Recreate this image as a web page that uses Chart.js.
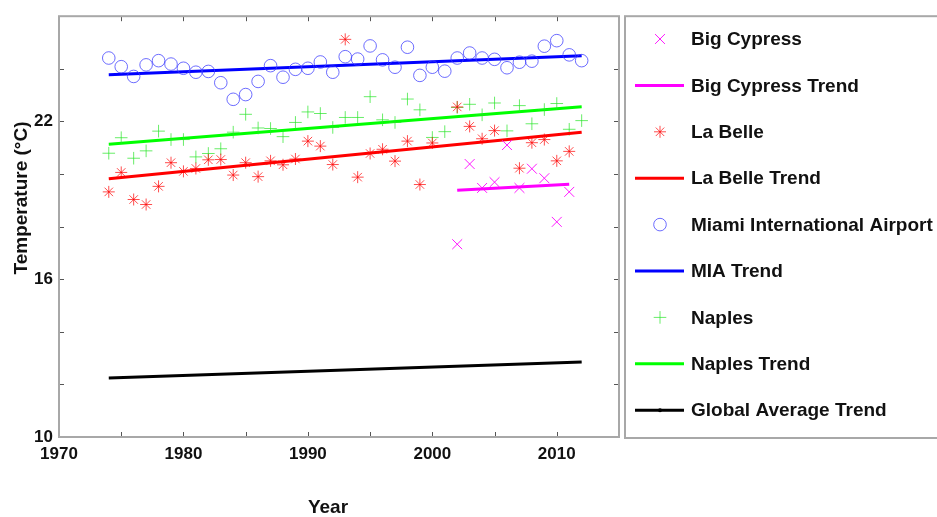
<!DOCTYPE html>
<html>
<head>
<meta charset="utf-8">
<title>South Florida Temperature Trends</title>
<script src="https://cdn.jsdelivr.net/npm/chart.js@4/dist/chart.umd.min.js"></script>
<style>
  html, body { margin: 0; padding: 0; background: #ffffff; }
  canvas { display: block; }
</style>
</head>
<body>
<canvas id="chart" width="937" height="517"></canvas>
<script>
// Annual mean temperature (°C) by station, 1974-2012
const years = [1974, 1975, 1976, 1977, 1978, 1979, 1980, 1981, 1982, 1983,
               1984, 1985, 1986, 1987, 1988, 1989, 1990, 1991, 1992, 1993,
               1994, 1995, 1996, 1997, 1998, 1999, 2000, 2001, 2002, 2003,
               2004, 2005, 2006, 2007, 2008, 2009, 2010, 2011, 2012];

const miamiTemps = [24.41, 24.08, 23.71, 24.15, 24.31, 24.18, 24.02, 23.87, 23.90, 23.47,
                    22.84, 23.02, 23.52, 24.12, 23.68, 23.98, 24.02, 24.26, 23.87, 24.46,
                    24.37, 24.87, 24.34, 24.06, 24.82, 23.75, 24.06, 23.91, 24.41, 24.60,
                    24.41, 24.36, 24.04, 24.25, 24.29, 24.86, 25.07, 24.53, 24.31];

const naplesTemps = [20.79, 21.38, 20.60, 20.88, 21.63, 21.31, 21.31, 20.65, 20.78, 20.96,
                     21.59, 22.27, 21.75, 21.73, 21.42, 21.96, 22.36, 22.30, 21.77, 22.15,
                     22.15, 22.94, 22.06, 21.96, 22.85, 22.44, 21.39, 21.61, 22.53, 22.65,
                     22.25, 22.70, 21.64, 22.60, 21.91, 22.45, 22.68, 21.70, 22.03];

const laBelleTemps = [19.32, 20.06, 19.03, 18.84, 19.53, 20.43, 20.10, 20.21, 20.54, 20.55,
                      19.96, 20.43, 19.90, 20.50, 20.35, 20.57, 21.25, 21.06, 20.36, 25.12,
                      19.88, 20.78, 20.94, 20.49, 21.25, 19.60, 21.18, null, 22.55, 21.81,
                      21.34, 21.65, null, 20.22, 21.19, 21.31, 20.50, 20.86, null];

const bigCypressYears = [2002, 2003, 2004, 2005, 2006, 2007, 2008, 2009, 2010, 2011];
const bigCypressTemps = [17.33, 20.38, 19.47, 19.69, 21.10, 19.47, 20.20, 19.84, 18.18, 19.32];

// Linear trend end points: [first year, last year] and [start value, end value]
const stationTrendYears = [1974, 2012];
const miamiTrend = [23.77, 24.50];
const naplesTrend = [21.13, 22.56];
const laBelleTrend = [19.82, 21.59];
const bigCypressTrendYears = [2002, 2011];
const bigCypressTrend = [19.38, 19.61];
const globalTrend = [12.24, 12.85];

// Axis tick values
const xTicks = [1970, 1975, 1980, 1985, 1990, 1995, 2000, 2005, 2010, 2015];
const xTickLabels = ['1970', '', '1980', '', '1990', '', '2000', '', '2010', ''];
const yTicks = [10, 12, 14, 16, 18, 20, 22, 24, 26];
const yTickLabels = ['10', '', '', '16', '', '', '22', '', ''];

const seriesNames = ['Big Cypress', 'Big Cypress Trend', 'La Belle', 'La Belle Trend',
                     'Miami International Airport', 'MIA Trend', 'Naples', 'Naples Trend',
                     'Global Average Trend'];

const pairs = (xs, ys) => xs.map((x, i) => ({ x: x, y: ys[i] })).filter(p => p.y !== null);

const MAGENTA = '#ff00ff', RED = '#ff0000', BLUE = '#0000ff', GREEN = '#00ff00', BLACK = '#000000';

function markerSet(label, data, style, color, radius) {
  return {
    label: label, data: data, showLine: false,
    pointStyle: style, pointRadius: radius, pointHoverRadius: radius,
    pointBorderColor: color, pointBackgroundColor: 'rgba(0,0,0,0)', pointBorderWidth: 1
  };
}
function trendSet(label, data, color, width) {
  return {
    label: label, data: data, showLine: true, borderColor: color, borderWidth: width,
    pointRadius: 0, pointBackgroundColor: color, pointBorderColor: color,
    fill: false, tension: 0
  };
}

const datasets = [
  markerSet(seriesNames[0], pairs(bigCypressYears, bigCypressTemps), 'crossRot', 'rgba(255,0,255,0.9)', 7),
  trendSet(seriesNames[1], pairs(bigCypressTrendYears, bigCypressTrend), MAGENTA, 3),
  markerSet(seriesNames[2], pairs(years, laBelleTemps), 'star', 'rgba(255,0,0,0.7)', 6),
  trendSet(seriesNames[3], pairs(stationTrendYears, laBelleTrend), RED, 3),
  markerSet(seriesNames[4], pairs(years, miamiTemps), 'circle', 'rgba(60,60,255,0.75)', 6.3),
  trendSet(seriesNames[5], pairs(stationTrendYears, miamiTrend), BLUE, 3),
  markerSet(seriesNames[6], pairs(years, naplesTemps), 'cross', 'rgba(40,230,40,0.7)', 6.3),
  trendSet(seriesNames[7], pairs(stationTrendYears, naplesTrend), GREEN, 3),
  trendSet(seriesNames[8], pairs(stationTrendYears, globalTrend), BLACK, 3)
];

const FONT = '"Liberation Sans", Arial, Helvetica, sans-serif';

// Box, inward tick marks, axis titles and the legend panel
const decorations = {
  id: 'decorations',
  afterDraw(chart) {
    const ctx = chart.ctx;
    const a = chart.chartArea;
    const xs = chart.scales.x, ys = chart.scales.y;
    ctx.save();

    // tick marks (inside, on all four sides)
    ctx.strokeStyle = '#555555';
    ctx.lineWidth = 1;
    ctx.beginPath();
    xTicks.forEach(v => {
      const px = Math.round(xs.getPixelForValue(v)) + 0.5;
      ctx.moveTo(px, a.bottom); ctx.lineTo(px, a.bottom - 5);
      ctx.moveTo(px, a.top); ctx.lineTo(px, a.top + 5);
    });
    yTicks.forEach(v => {
      const py = Math.round(ys.getPixelForValue(v)) + 0.5;
      ctx.moveTo(a.left, py); ctx.lineTo(a.left + 5, py);
      ctx.moveTo(a.right, py); ctx.lineTo(a.right - 5, py);
    });
    ctx.stroke();

    // axes box
    ctx.strokeStyle = '#a8a8a8';
    ctx.lineWidth = 2;
    ctx.strokeRect(a.left, a.top, a.right - a.left, a.bottom - a.top);

    // axis titles
    ctx.fillStyle = '#111111';
    ctx.font = 'bold 19px ' + FONT;
    ctx.textAlign = 'center';
    ctx.textBaseline = 'alphabetic';
    ctx.fillText('Year', 328, 513);
    ctx.save();
    ctx.translate(27, 198);
    ctx.rotate(-Math.PI / 2);
    ctx.fillText('Temperature (\u00B0C)', 0, 0);
    ctx.restore();

    // legend panel
    const lx = 625, ly = a.top, lw = 937 - 625 + 4, lh = a.bottom - a.top + 1;
    ctx.strokeStyle = '#a8a8a8';
    ctx.lineWidth = 2;
    ctx.strokeRect(lx, ly, lw, lh);

    const rowTop = 39, rowGap = 46.4, symX = 660, lineX0 = 635, lineX1 = 684, textX = 691;
    ctx.font = 'bold 19px ' + FONT;
    ctx.textAlign = 'left';
    ctx.textBaseline = 'middle';
    const last = chart.data.datasets.length - 1;
    chart.data.datasets.forEach((ds, i) => {
      const cy = rowTop + i * rowGap;
      if (ds.showLine) {
        ctx.strokeStyle = ds.borderColor;
        ctx.lineWidth = ds.borderWidth;
        ctx.beginPath();
        ctx.moveTo(lineX0, cy); ctx.lineTo(lineX1, cy);
        ctx.stroke();
        if (i === last) {
          ctx.fillStyle = ds.borderColor;
          ctx.beginPath(); ctx.arc(symX, cy, 2, 0, Math.PI * 2); ctx.fill();
        }
      } else {
        const r = ds.pointRadius;
        const k = Math.SQRT1_2 * r;
        ctx.strokeStyle = ds.pointBorderColor;
        ctx.lineWidth = 1;
        ctx.beginPath();
        if (ds.pointStyle === 'circle') {
          ctx.arc(symX, cy, r, 0, Math.PI * 2);
        } else if (ds.pointStyle === 'cross') {
          ctx.moveTo(symX - r, cy); ctx.lineTo(symX + r, cy);
          ctx.moveTo(symX, cy - r); ctx.lineTo(symX, cy + r);
        } else if (ds.pointStyle === 'crossRot') {
          ctx.moveTo(symX - k, cy - k); ctx.lineTo(symX + k, cy + k);
          ctx.moveTo(symX - k, cy + k); ctx.lineTo(symX + k, cy - k);
        } else {
          ctx.moveTo(symX - r, cy); ctx.lineTo(symX + r, cy);
          ctx.moveTo(symX, cy - r); ctx.lineTo(symX, cy + r);
          ctx.moveTo(symX - k, cy - k); ctx.lineTo(symX + k, cy + k);
          ctx.moveTo(symX - k, cy + k); ctx.lineTo(symX + k, cy - k);
        }
        ctx.stroke();
      }
      ctx.fillStyle = '#111111';
      ctx.fillText(ds.label, textX, cy + 1);
    });

    ctx.restore();
  }
};

new Chart(document.getElementById('chart'), {
  type: 'scatter',
  data: { datasets: datasets },
  options: {
    responsive: false,
    animation: false,
    devicePixelRatio: 1,
    layout: { padding: { top: 9, right: 318, left: 0, bottom: 0 } },
    plugins: { legend: { display: false }, tooltip: { enabled: false } },
    scales: {
      x: {
        type: 'linear', min: 1970, max: 2015,
        afterFit(scale) { scale.height = 80; },
        afterBuildTicks(scale) { scale.ticks = xTicks.map(v => ({ value: v })); },
        grid: { display: false, drawTicks: false },
        border: { display: false },
        ticks: {
          autoSkip: false, maxRotation: 0, padding: 7,
          color: '#111111', font: { family: FONT, size: 17, weight: 'bold' },
          callback: (v) => xTickLabels[xTicks.indexOf(v)]
        },
        title: { display: false }
      },
      y: {
        type: 'linear', min: 10, max: 26,
        afterFit(scale) { scale.width = 59; },
        afterBuildTicks(scale) { scale.ticks = yTicks.map(v => ({ value: v })); },
        grid: { display: false, drawTicks: false },
        border: { display: false },
        ticks: {
          autoSkip: false, padding: 6,
          color: '#111111', font: { family: FONT, size: 17, weight: 'bold' },
          callback: (v) => yTickLabels[yTicks.indexOf(v)]
        },
        title: { display: false }
      }
    }
  },
  plugins: [decorations]
});
</script>
</body>
</html>
